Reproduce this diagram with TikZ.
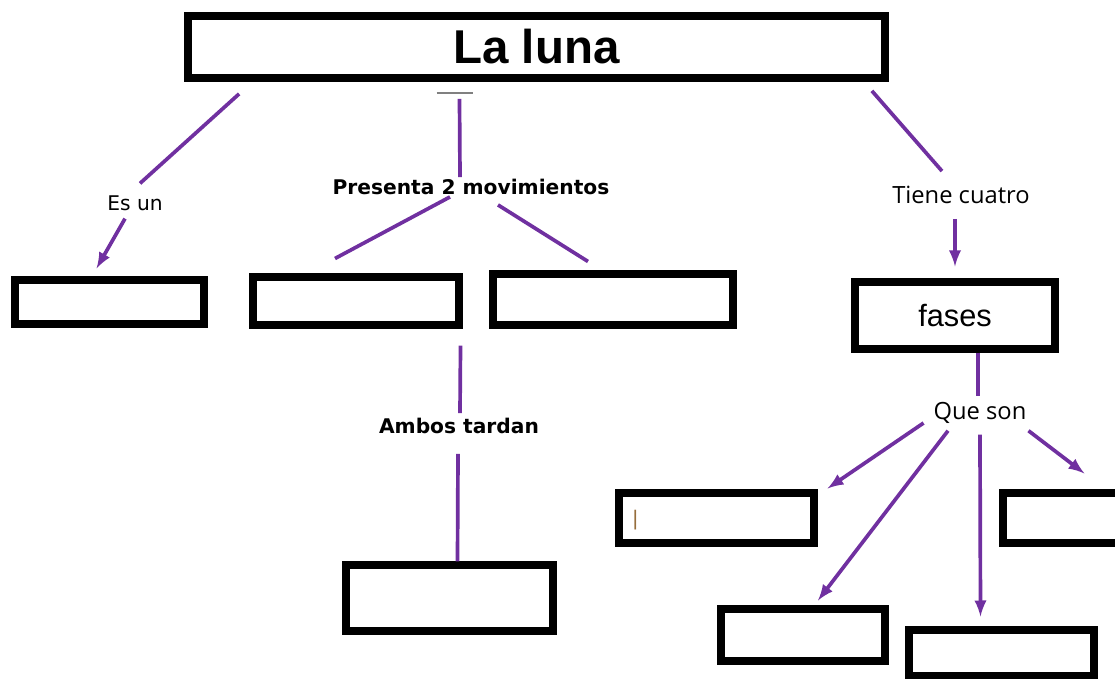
\documentclass[tikz,border=0pt]{standalone}
\usepackage{fontspec}
\usepackage{tikz}
\usetikzlibrary{positioning, calc, arrows}
\newfontfamily\arialfont{Liberation Sans}
\newfontfamily\comicfont{DejaVu Sans}
\newfontfamily\calibrifont{Open Sans}
\definecolor{morado}{RGB}{112,48,160}
\definecolor{cursor}{RGB}{150,110,60}
\tikzset{
  caja/.style={draw, line width=4pt, inner sep=0pt},
  enlace/.style={draw=morado, line width=2.1pt},
  etiqueta/.style={inner sep=1pt},
}

\begin{document}
\begin{tikzpicture}[x=0.2mm, y=0.2mm, >=latex]
    \path[use as bounding box, clip] (0,0) rectangle (1115,-679);
    % cajas
    \node[caja, line width=4.4pt, minimum width=139.4mm, minimum height=12.4mm] (luna) at (536.5,-47) {\arialfont\bfseries\fontsize{27}{27}\selectfont La luna};
    \node[caja, minimum width=37.8mm, minimum height=8.8mm] (cuerpo) at (109.5,-302) {};
    \node[caja, minimum width=41.2mm, minimum height=9.6mm] (mov1) at (356,-301) {};
    \node[caja, minimum width=48mm, minimum height=10.2mm] (mov2) at (613,-299.5) {};
    \node[caja, minimum width=41.4mm, minimum height=13.2mm] (tiempo) at (449.5,-598) {};
    \node[caja, minimum width=40mm, minimum height=13.4mm] (fases) at (955,-315.5) {\arialfont\fontsize{17.5}{17.5}\selectfont fases};
    \node[caja, minimum width=39mm, minimum height=10mm] (fase1) at (716.5,-518) {};
    \node[caja, minimum width=40mm, minimum height=10mm] (fase2) at (1103,-518) {};
    \node[caja, minimum width=32.8mm, minimum height=10.4mm] (fase3) at (803,-635) {};
    \node[caja, minimum width=37mm, minimum height=9.2mm] (fase4) at (1001.5,-653) {};
    \node[text=cursor, inner sep=0pt] at ($(fase1.west)+(20,-2)$) {\arialfont\fontsize{12}{12}\selectfont |};
    % etiquetas
    \node[etiqueta] (esun) at (135,-203) {\comicfont\fontsize{11.5}{11.5}\selectfont Es un};
    \node[etiqueta] (presenta) at (471,-187) {\comicfont\bfseries\fontsize{11.5}{11.5}\selectfont Presenta 2 movimientos};
    \node[etiqueta] (tardan) at (459,-426) {\comicfont\bfseries\fontsize{11.5}{11.5}\selectfont Ambos tardan};
    \node[etiqueta] (tiene) at (961,-195) {\calibrifont\fontsize{13.5}{13.5}\selectfont Tiene cuatro};
    \node[etiqueta] (queson) at (980,-413) {\calibrifont\fontsize{13.5}{13.5}\selectfont Que son};
    % enlaces
    \draw[gray, line width=1pt] ($(luna.south)+(-100,-11)$) -- ++(36,0);
    \draw[enlace] ($(luna.south west)+(55,-12)$) -- ($(esun.north)+(5,10)$);
    \draw[enlace, ->] ($(esun.south)+(-10,-6)$) -- ($(cuerpo.north)+(-13,8)$);
    \draw[enlace] ($(luna.south)+(-77,-17)$) -- ($(presenta.north)+(-11,0)$);
    \draw[enlace] ($(presenta.south)+(-21,0)$) -- ($(mov1.north)+(-21,15)$);
    \draw[enlace] ($(presenta.south)+(27,-8)$) -- ($(mov2.north)+(-25,9)$);
    \draw[enlace] ($(mov1.south east)+(-2,-17)$) -- ($(tardan.north)+(1,3)$);
    \draw[enlace] ($(tardan.south)+(-1,-18)$) -- ($(tiempo.north)+(8,0)$);
    \draw[enlace] ($(luna.south east)+(-17,-9)$) -- ($(tiene.north)+(-19,13)$);
    \draw[enlace, ->] ($(tiene.south)+(-6,-13)$) -- ($(fases.north)+(0,12)$);
    \draw[enlace] ($(fases.south)+(23,0)$) -- ($(queson.north)+(-2,4)$);
    \draw[enlace, ->] ($(queson.west)+(-8,-10)$) -- ($(fase1.north east)+(10,1)$);
    \draw[enlace, ->] ($(queson.south)+(-32,-5)$) -- ($(fase3.north)+(15,5)$);
    \draw[enlace, ->] ($(queson.south)+(0,-9)$) -- ($(fase4.north)+(-21,10)$);
    \draw[enlace, ->] ($(queson.south east)+(0,-5)$) -- ($(fase2.north west)+(85,16)$);
\end{tikzpicture}
\end{document}
